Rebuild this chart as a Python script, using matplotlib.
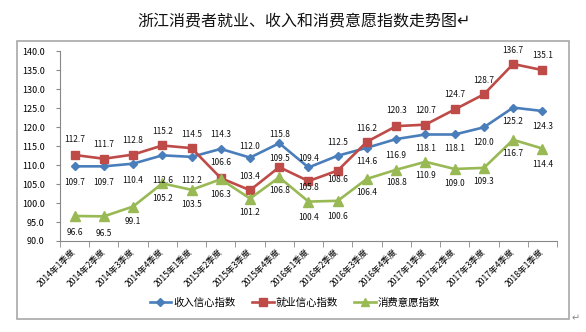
import matplotlib
matplotlib.use('Agg')
import matplotlib.pyplot as plt
from matplotlib.patches import Rectangle
from matplotlib.lines import Line2D
import numpy as np

plt.rcParams['font.family'] = ['Noto Sans CJK SC', 'DejaVu Sans']

# ============================================
# DATA
# ============================================
quarters = ['2014年1季度', '2014年2季度', '2014年3季度', '2014年4季度',
            '2015年1季度', '2015年2季度', '2015年3季度', '2015年4季度',
            '2016年1季度', '2016年2季度', '2016年3季度', '2016年4季度',
            '2017年1季度', '2017年2季度', '2017年3季度', '2017年4季度',
            '2018年1季度']
income = [109.7, 109.7, 110.4, 112.6, 112.2, 114.3, 112.0, 115.8, 109.4,
          112.5, 114.6, 116.9, 118.1, 118.1, 120.0, 125.2, 124.3]
employment = [112.7, 111.7, 112.8, 115.2, 114.5, 106.6, 103.4, 109.5, 105.8,
              108.6, 116.2, 120.3, 120.7, 124.7, 128.7, 136.7, 135.1]
consumption = [96.6, 96.5, 99.1, 105.2, 103.5, 106.3, 101.2, 106.8, 100.4,
               100.6, 106.4, 108.8, 110.9, 109.0, 109.3, 116.7, 114.4]
series_names = ['收入信心指数', '就业信心指数', '消费意愿指数']

# label placement (vertical offset in pixels, + = below the point)
income_off = [16, 16, 17, 25, 24, -14, -11, -9, -9, -13, 14, 16, 14, 14, 15, 14, 16]
employ_off = [-15, -14, -14, -14, -14, -16, -14, -9, 6, 9, -13, -16, -14, -15, -14, -14, -15]
consum_off = [17, 17, 15, 15, 15, 15, 14, 13, 16, 16, 14, 13, 14, 15, 14, 14, 16]

COLORS = {'income': '#4A7EBB', 'employ': '#BE4B48', 'consum': '#98B954'}

# ============================================
# PLOTTING
# ============================================
fig = plt.figure(figsize=(5.86, 3.32), dpi=100)
fig.patch.set_facecolor('white')

# outer chart frame
fig.patches.append(Rectangle((0.029, 0.039), 0.942, 0.8375, transform=fig.transFigure,
                             fill=False, edgecolor='#a8a8a8', linewidth=1.2))

fig.text(0.519, 0.934, '浙江消费者就业、收入和消费意愿指数走势图↵', ha='center', va='center',
         fontsize=11.5, color='#111111')
fig.text(0.982, 0.040, '↵', ha='center', va='center', fontsize=7, color='#888888')

ax = fig.add_axes([0.1024, 0.2741, 0.8481, 0.5708])
x = np.arange(len(quarters))

ax.plot(x, income, color=COLORS['income'], lw=1.9, marker='D', markersize=4.5,
        markeredgecolor=COLORS['income'])
ax.plot(x, employment, color=COLORS['employ'], lw=1.9, marker='s', markersize=6,
        markeredgecolor=COLORS['employ'])
ax.plot(x, consumption, color=COLORS['consum'], lw=1.9, marker='^', markersize=6.5,
        markeredgecolor=COLORS['consum'])

for vals, offs in [(income, income_off), (employment, employ_off), (consumption, consum_off)]:
    for xi, v, o in zip(x, vals, offs):
        ax.annotate(f'{v:.1f}', (xi, v), xytext=(0, -o), textcoords='offset pixels',
                    ha='center', va='center', fontsize=6, color='#111111')

ax.set_xlim(-0.5, len(quarters) - 0.5)
ax.set_ylim(90, 140)
ax.set_yticks(np.arange(90, 140.1, 5))
ax.set_yticklabels([f'{t:.1f}' for t in np.arange(90, 140.1, 5)], fontsize=6.5)

ax.set_xticks(x)
ax.set_xticklabels(quarters, rotation=45, ha='right', va='center',
                   rotation_mode='anchor', fontsize=6.2)
ax.set_xticks(np.arange(-0.5, len(quarters)), minor=True)
ax.tick_params(axis='x', which='major', length=0, pad=7)
ax.tick_params(axis='x', which='minor', length=4, color='#888888', direction='out')
ax.tick_params(axis='y', length=3, color='#888888', pad=8)

for side in ['top', 'right']:
    ax.spines[side].set_visible(False)
for side in ['left', 'bottom']:
    ax.spines[side].set_color('#888888')
    ax.spines[side].set_linewidth(0.8)

handles = [
    Line2D([], [], color=COLORS['income'], lw=1.9, marker='D', markersize=4.5),
    Line2D([], [], color=COLORS['employ'], lw=1.9, marker='s', markersize=5.5),
    Line2D([], [], color=COLORS['consum'], lw=1.9, marker='^', markersize=6),
]
fig.legend(handles, series_names, loc='center', bbox_to_anchor=(0.503, 0.088), ncol=3,
           frameon=False, fontsize=7.5, handlelength=2.1, handletextpad=0.15,
           columnspacing=1.6)

plt.savefig('out.png', dpi=100, facecolor='white')
plt.close()
